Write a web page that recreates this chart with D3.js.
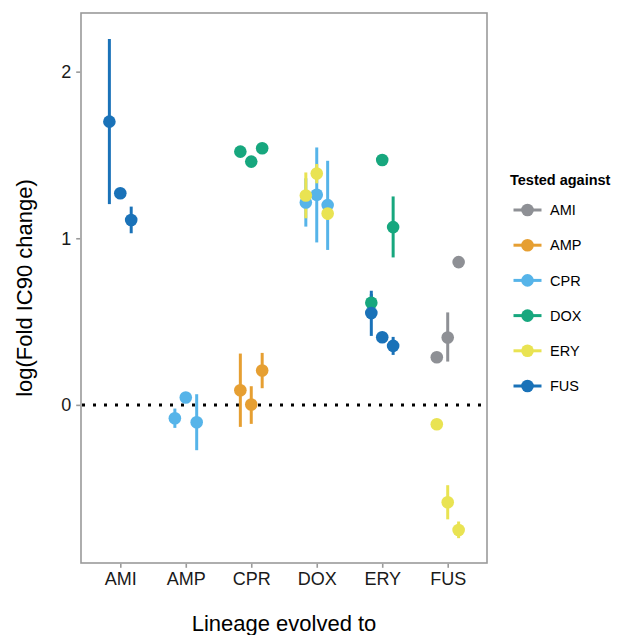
<!DOCTYPE html>
<html>
<head>
<meta charset="utf-8">
<script src="https://cdn.jsdelivr.net/npm/d3@7"></script>
<style>
  body { margin: 0; background: #fff; }
  svg { display: block; font-family: "Liberation Sans", Arial, sans-serif; }
</style>
</head>
<body>
<svg id="chart"></svg>
<script>
  // lineage evolved to (x categories) and drug tested against (colour)
  var evolvedTo = ["AMI", "AMP", "CPR", "DOX", "ERY", "FUS"];
  var testedAgainst = ["AMI", "AMP", "CPR", "DOX", "ERY", "FUS"];
  var yTicks = [0, 1, 2];

  // [evolved to, lineage, mean, low, high]  (low/high null = no range)
  var amiValues = [
    ["FUS", 1, 0.286, null, null],
    ["FUS", 2, 0.404, 0.26, 0.555],
    ["FUS", 3, 0.857, null, null]
  ];
  var ampValues = [
    ["CPR", 1, 0.088, -0.132, 0.308],
    ["CPR", 2, 0.002, -0.114, 0.112],
    ["CPR", 3, 0.206, 0.10, 0.312]
  ];
  var cprValues = [
    ["AMP", 1, -0.080, -0.138, -0.022],
    ["AMP", 2, 0.044, null, null],
    ["AMP", 3, -0.104, -0.272, 0.064],
    ["DOX", 1, 1.215, 1.07, 1.36],
    ["DOX", 2, 1.261, 0.975, 1.545],
    ["DOX", 3, 1.199, 0.93, 1.465]
  ];
  var doxValues = [
    ["CPR", 1, 1.52, null, null],
    ["CPR", 2, 1.46, null, null],
    ["CPR", 3, 1.54, null, null],
    ["ERY", 1, 0.613, 0.56, 0.665],
    ["ERY", 2, 1.47, null, null],
    ["ERY", 3, 1.067, 0.885, 1.251]
  ];
  var eryValues = [
    ["DOX", 1, 1.257, 1.12, 1.395],
    ["DOX", 2, 1.389, 1.33, 1.446],
    ["DOX", 3, 1.149, 1.11, 1.19],
    ["FUS", 1, -0.116, null, null],
    ["FUS", 2, -0.584, -0.687, -0.482],
    ["FUS", 3, -0.751, -0.80, -0.70]
  ];
  var fusValues = [
    ["AMI", 1, 1.70, 1.205, 2.196],
    ["AMI", 2, 1.27, null, null],
    ["AMI", 3, 1.11, 1.03, 1.19],
    ["ERY", 1, 0.551, 0.414, 0.685],
    ["ERY", 2, 0.406, null, null],
    ["ERY", 3, 0.354, 0.30, 0.408]
  ];

  var seriesValues = [amiValues, ampValues, cprValues, doxValues, eryValues, fusValues];
  var palette = ["#8e9095", "#e69f32", "#56b4e9", "#17a77e", "#e9e352", "#1a72b8"];

  var width = 617,
    height = 635,
    panel = { left: 81, top: 13, right: 487, bottom: 563 };

  var svg = d3.select("#chart")
    .attr("width", width)
    .attr("height", height);

  var x = d3.scalePoint()
    .domain(evolvedTo)
    .range([panel.left, panel.right])
    .padding(0.6);

  var dodge = d3.scalePoint()
    .domain([1, 2, 3])
    .range([-x.step() / 6, x.step() / 6]);

  var y = d3.scaleLinear()
    .domain([-0.949, 2.352])
    .range([panel.bottom, panel.top]);

  var color = d3.scaleOrdinal()
    .domain(testedAgainst)
    .range(palette);

  var rows = [];
  seriesValues.forEach(function(vals, i) {
    vals.forEach(function(v) {
      rows.push({ against: testedAgainst[i], to: v[0], lineage: v[1], mean: v[2], lo: v[3], hi: v[4] });
    });
  });

  // zero reference line
  svg.append("line")
    .attr("x1", panel.left + 1)
    .attr("x2", panel.right)
    .attr("y1", y(0))
    .attr("y2", y(0))
    .attr("stroke", "#000")
    .attr("stroke-width", 3)
    .attr("stroke-dasharray", "3,8");

  // ranges first, then points (like pointrange)
  svg.append("g")
    .selectAll("line")
    .data(rows.filter(function(d) { return d.lo != null; }))
    .join("line")
    .attr("x1", function(d) { return x(d.to) + dodge(d.lineage); })
    .attr("x2", function(d) { return x(d.to) + dodge(d.lineage); })
    .attr("y1", function(d) { return y(d.lo); })
    .attr("y2", function(d) { return y(d.hi); })
    .attr("stroke", function(d) { return color(d.against); })
    .attr("stroke-width", 3);

  svg.append("g")
    .selectAll("circle")
    .data(rows)
    .join("circle")
    .attr("cx", function(d) { return x(d.to) + dodge(d.lineage); })
    .attr("cy", function(d) { return y(d.mean); })
    .attr("r", 6.3)
    .attr("fill", function(d) { return color(d.against); });

  // panel border
  svg.append("rect")
    .attr("x", panel.left)
    .attr("y", panel.top)
    .attr("width", panel.right - panel.left)
    .attr("height", panel.bottom - panel.top)
    .attr("fill", "none")
    .attr("stroke", "#9a9a9a")
    .attr("stroke-width", 1.6);

  // axes
  var xAxis = svg.append("g")
    .attr("transform", "translate(0," + (panel.bottom + 0.8) + ")")
    .call(d3.axisBottom(x).tickSize(4).tickPadding(4));
  var yAxis = svg.append("g")
    .attr("transform", "translate(" + (panel.left - 0.8) + ",0)")
    .call(d3.axisLeft(y).tickValues(yTicks).tickFormat(d3.format("d")).tickSize(4).tickPadding(5));

  [xAxis, yAxis].forEach(function(ax) {
    ax.select(".domain").remove();
    ax.selectAll(".tick line").attr("stroke", "#9a9a9a").attr("stroke-width", 1.6);
    ax.selectAll(".tick text")
      .attr("fill", "#1a1a1a")
      .style("font-size", "18px")
      .style("font-family", "'Liberation Sans', Arial, sans-serif");
  });

  svg.append("text")
    .attr("x", (panel.left + panel.right) / 2)
    .attr("y", 631)
    .attr("text-anchor", "middle")
    .style("font-size", "22px")
    .attr("fill", "#000")
    .text("Lineage evolved to");

  svg.append("text")
    .attr("transform", "translate(32," + ((panel.top + panel.bottom) / 2) + ") rotate(-90)")
    .attr("text-anchor", "middle")
    .style("font-size", "22px")
    .attr("fill", "#000")
    .text("log(Fold IC90 change)");

  // legend
  var legend = svg.append("g").attr("transform", "translate(510,0)");
  legend.append("text")
    .attr("x", 0)
    .attr("y", 184.5)
    .style("font-size", "14.5px")
    .style("font-weight", "bold")
    .text("Tested against");

  var item = legend.selectAll("g.item")
    .data(testedAgainst)
    .join("g")
    .attr("class", "item")
    .attr("transform", function(d, i) { return "translate(0," + (210 + i * 35.2) + ")"; });
  item.append("line")
    .attr("x1", 3.5)
    .attr("x2", 31.5)
    .attr("stroke", function(d) { return color(d); })
    .attr("stroke-width", 3);
  item.append("circle")
    .attr("cx", 17.5)
    .attr("r", 6.3)
    .attr("fill", function(d) { return color(d); });
  item.append("text")
    .attr("x", 40)
    .attr("y", 5.2)
    .style("font-size", "14.5px")
    .text(function(d) { return d; });
</script>
</body>
</html>
